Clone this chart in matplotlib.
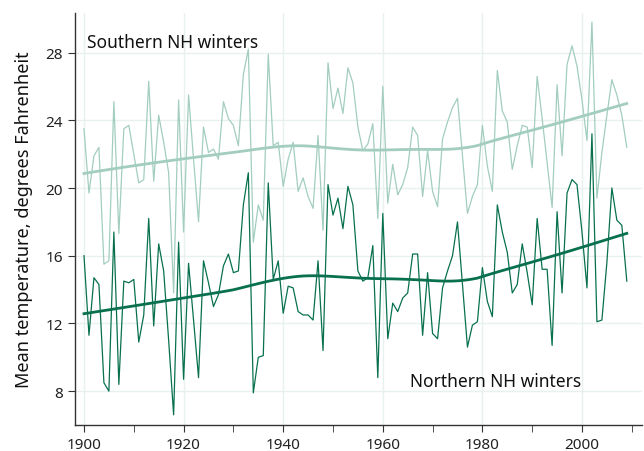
import numpy as np
import matplotlib.pyplot as plt

years = np.arange(1900, 2010)

# southern New Hampshire winter means (deg F)
south = [23.5, 19.7, 21.9, 22.4, 15.5, 15.7, 25.1, 17.3, 23.5, 23.7,
         22.0, 20.3, 20.5, 26.3, 20.4, 24.3, 22.7, 20.9, 13.8, 25.2,
         17.4, 25.5, 21.7, 18.0, 23.6, 22.1, 22.3, 21.7, 25.1, 24.1,
         23.7, 22.5, 26.7, 28.2, 16.8, 19.0, 18.1, 27.9, 22.5, 22.7,
         20.1, 21.7, 22.7, 19.8, 20.6, 19.5, 18.8, 23.1, 17.5, 27.4,
         24.7, 25.9, 24.4, 27.1, 26.2, 23.6, 22.2, 22.6, 23.8, 18.2,
         26.0, 19.1, 21.4, 19.6, 20.2, 21.2, 23.6, 23.1, 19.5, 22.2,
         19.8, 18.9, 22.9, 23.9, 24.75, 25.3, 21.9, 18.5, 19.5, 20.2,
         23.7, 21.3, 19.8, 26.95, 24.55, 23.9, 21.1, 22.5, 23.7, 23.6,
         21.2, 26.6, 24.1, 21.5, 18.85, 26.1, 21.9, 27.3, 28.4, 27.2,
         25.2, 22.8, 29.8, 19.4, 22.1, 24.3, 26.4, 25.5, 24.3, 22.4]

# northern New Hampshire winter means (deg F)
north = [16.0, 11.3, 14.7, 14.3, 8.5, 8.0, 17.4, 8.4, 14.5, 14.4,
         14.6, 10.9, 12.5, 18.2, 11.85, 16.7, 15.1, 11.0, 6.6, 16.8,
         8.7, 15.55, 12.2, 8.8, 15.7, 14.4, 13.0, 13.7, 15.4, 16.1,
         15.0, 15.1, 19.0, 20.9, 7.9, 10.0, 10.1, 20.3, 14.6, 15.7,
         12.6, 14.2, 14.1, 12.7, 12.5, 12.5, 12.2, 15.7, 10.4, 20.2,
         18.4, 19.4, 17.6, 20.1, 19.0, 15.1, 14.5, 14.7, 16.6, 8.8,
         18.5, 11.1, 13.2, 12.7, 13.5, 13.8, 16.1, 16.1, 11.3, 15.0,
         11.4, 11.1, 14.1, 15.1, 16.0, 18.0, 14.3, 10.6, 11.9, 12.1,
         15.3, 13.3, 12.4, 19.0, 17.4, 16.2, 13.8, 14.3, 16.7, 15.0,
         13.1, 18.2, 15.2, 15.2, 10.7, 18.6, 13.8, 19.7, 20.5, 20.2,
         17.4, 14.1, 23.2, 12.1, 12.2, 15.6, 20.0, 18.1, 17.8, 14.5]


def lowess(x, y, frac=0.55):
    # local line, tricube weights over the nearest frac*n points
    x = np.asarray(x, float)
    y = np.asarray(y, float)
    r = int(np.ceil(frac * len(x)))
    out = np.empty_like(y)
    for i, xi in enumerate(x):
        d = np.abs(x - xi)
        h = np.sort(d)[r - 1]
        w = np.clip(d / h, 0, 1)
        w = (1 - w ** 3) ** 3
        xm = np.sum(w * x) / w.sum()
        ym = np.sum(w * y) / w.sum()
        b = np.sum(w * (x - xm) * (y - ym)) / np.sum(w * (x - xm) ** 2)
        out[i] = ym + b * (xi - xm)
    return out


light = '#a2cdbf'
dark = '#08704f'
grid = '#e9f1f0'

fig = plt.figure(figsize=(6.44, 4.52), dpi=100)
ax = fig.add_axes([0.1165, 0.0575, 0.88, 0.912])

ax.plot(years, south, color=light, lw=0.9)
ax.plot(years, lowess(years, south), color=light, lw=2.0)
ax.plot(years, north, color=dark, lw=0.9)
ax.plot(years, lowess(years, north), color=dark, lw=2.0)

ax.set_xlim(1898.2, 2012)
ax.set_ylim(6.0, 30.35)
ax.set_yticks([8, 12, 16, 20, 24, 28])
ax.set_xticks(range(1900, 2001, 20))
ax.set_xticks(range(1900, 2011, 10), minor=True)
ax.grid(True, which='major', color=grid, lw=1.0)
ax.set_axisbelow(True)
for s in ['top', 'right']:
    ax.spines[s].set_visible(False)
for s in ['left', 'bottom']:
    ax.spines[s].set_color('#333333')
    ax.spines[s].set_linewidth(1.0)
ax.tick_params(which='both', direction='out', color='#333333', length=5,
               labelsize=11, labelcolor='#222222')

ax.set_ylabel('Mean temperature, degrees Fahrenheit', fontsize=13,
              color='#111111', family='Noto Sans', labelpad=9)
for lab in ax.get_xticklabels() + ax.get_yticklabels():
    lab.set_family('Noto Sans')

ax.text(1900.6, 28.6, 'Southern NH winters', fontsize=12.5, color='#111111',
        family='Noto Sans', va='center')
ax.text(1965.5, 8.6, 'Northern NH winters', fontsize=12.5, color='#111111',
        family='Noto Sans', va='center')

fig.savefig('out.png')
